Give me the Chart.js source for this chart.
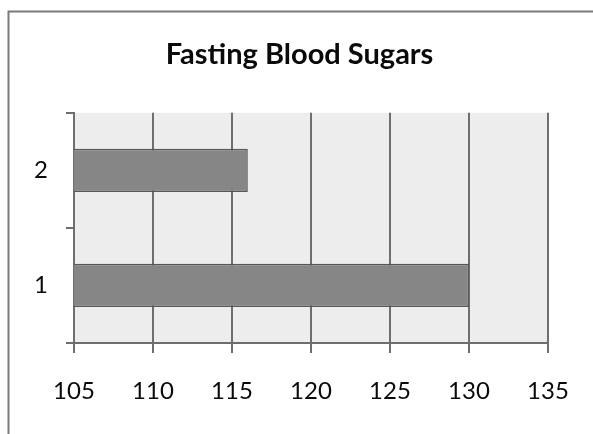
<!DOCTYPE html>
<html>
<head>
<meta charset="utf-8">
<script src="https://cdn.jsdelivr.net/npm/chart.js@4/dist/chart.umd.min.js"></script>
<style>
  html, body { margin: 0; padding: 0; background: #ffffff; overflow: hidden; }
  canvas { display: block; }
</style>
</head>
<body>
<canvas id="c" width="593" height="434"></canvas>
<script>
const chartTitle = "Fasting Blood Sugars";
const categories = ["1", "2"];
const values = [130, 116];
const xMin = 105, xMax = 135, xStep = 5;

const tickFont = { family: 'Lato', size: 24 };

const decor = {
  id: 'decor',
  beforeDraw(chart) {
    const {ctx, chartArea: a} = chart;
    ctx.save();
    ctx.fillStyle = '#ededed';
    ctx.fillRect(a.left, a.top, a.right - a.left, a.bottom - a.top);
    ctx.strokeStyle = '#7a7a7a';
    ctx.lineWidth = 2;
    ctx.beginPath();
    ctx.moveTo(8.5, chart.height + 5);
    ctx.lineTo(8.5, 11.5);
    ctx.lineTo(chart.width + 5, 11.5);
    ctx.stroke();
    ctx.restore();
  }
};

new Chart(document.getElementById('c'), {
  type: 'bar',
  data: {
    labels: categories,
    datasets: [{
      data: values,
      backgroundColor: '#868686',
      borderColor: '#575757',
      borderWidth: 1.5,
      categoryPercentage: 0.75,
      barPercentage: 0.5
    }]
  },
  options: {
    indexAxis: 'y',
    responsive: false,
    animation: false,
    layout: { padding: { left: 6, right: 0, top: 0, bottom: 0 } },
    plugins: {
      legend: { display: false },
      tooltip: { enabled: false },
      title: {
        display: true,
        text: chartTitle,
        color: '#0a0a0a',
        font: { family: 'Lato', size: 29, weight: 'bold', lineHeight: 1.2 },
        padding: { top: 37, bottom: 41 }
      }
    },
    scales: {
      x: {
        type: 'linear',
        min: xMin, max: xMax,
        ticks: { stepSize: xStep, color: '#0a0a0a', padding: 24, font: tickFont },
        grid: { color: '#6e6e6e', lineWidth: 2, tickLength: 10, drawOnChartArea: true },
        border: { color: '#6e6e6e', width: 2 },
        afterFit(s) { s.height = 91; }
      },
      y: {
        reverse: true,
        ticks: { color: '#0a0a0a', padding: 18, font: tickFont },
        grid: { color: '#6e6e6e', lineWidth: 2, tickLength: 8, drawOnChartArea: false, offset: true },
        border: { color: '#6e6e6e', width: 2 },
        afterFit(s) { s.width = 68; }
      },
      yRightSpace: {
        type: 'linear',
        position: 'right',
        display: true,
        ticks: { display: false },
        grid: { display: false },
        border: { display: false },
        afterFit(s) { s.width = 45; }
      }
    }
  },
  plugins: [decor]
});
</script>
</body>
</html>
